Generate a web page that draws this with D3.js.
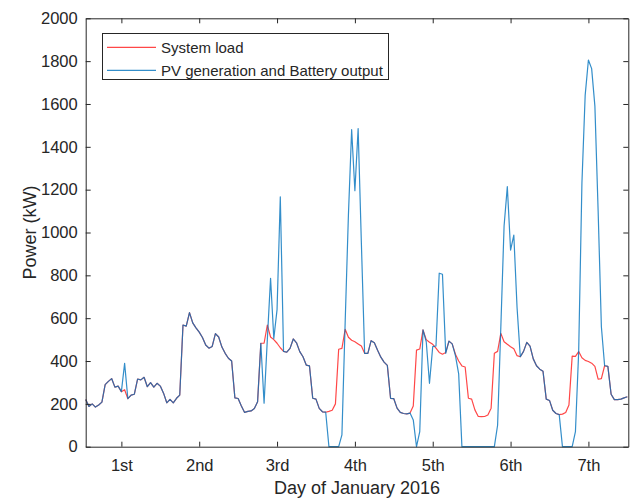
<!DOCTYPE html>
<html>
<head>
<meta charset="utf-8">
<script src="https://cdn.jsdelivr.net/npm/d3@7"></script>
<style>
  html, body { margin: 0; padding: 0; background: #fff; }
  svg { display: block; font-family: "Liberation Sans", Arial, Helvetica, sans-serif; }
</style>
</head>
<body>
<svg id="chart" width="632" height="499"></svg>
<script>
// Hourly system load over the first week of January 2016 (kW)
const systemLoad = [
  220,188,200,185,195,208,290,305,318,278,283,257,266,224,241,245,316,312,324,280,299,278,296,283,
  250,205,221,205,226,241,568,563,626,578,555,535,510,475,460,468,528,512,465,436,413,400,228,225,
  190,160,165,167,178,210,483,483,568,512,500,483,462,445,441,459,503,485,444,420,381,377,226,222,
  179,163,161,165,170,200,455,459,548,511,497,490,480,470,436,436,495,485,450,418,395,380,226,224,
  180,160,155,153,157,190,451,456,545,500,488,478,460,440,432,440,493,480,432,400,377,372,226,222,
  172,142,140,141,148,180,436,445,529,490,478,467,457,425,420,445,487,470,410,378,362,352,222,216,
  170,155,150,152,160,195,423,422,444,415,403,398,390,375,315,318,378,375,245,220,220,222,228,233
];

// Hourly PV generation plus battery output (kW)
const pvBattery = [
  220,188,200,185,195,208,290,305,318,278,283,257,389,224,241,245,316,312,324,280,299,278,296,283,
  250,205,221,205,226,241,568,563,626,578,555,535,510,475,460,468,528,512,465,436,413,400,228,225,
  190,160,165,167,178,210,483,203,500,786,505,640,1167,445,441,459,503,485,444,420,381,377,226,222,
  179,163,161,0,0,0,0,55,580,1080,1480,1195,1485,950,436,436,495,485,450,418,395,380,226,224,
  180,160,155,153,157,125,0,70,545,490,296,467,470,810,805,436,493,480,425,340,0,0,0,0,
  0,0,0,0,0,0,0,100,560,1030,1214,918,988,650,420,445,487,470,410,378,362,352,222,216,
  170,155,150,0,0,0,0,70,444,1230,1640,1805,1765,1590,1100,560,378,375,245,220,220,222,228,233
];

const dayLabels = ["1st", "2nd", "3rd", "4th", "5th", "6th", "7th"];
const dayTickHours = [11, 35, 59, 83, 107, 131, 155];
const powerTicks = [0, 200, 400, 600, 800, 1000, 1200, 1400, 1600, 1800, 2000];

const seriesNames = ["System load", "PV generation and Battery output"];
const seriesColors = ["#ff0000", "#0072bd"];
const seriesOpacity = [0.72, 0.8];

const svg = d3.select("#chart");
const m = { left: 85.7, right: 628.3, top: 18.3, bottom: 446.7 };
const axisColor = "#262626";

const x = d3.scaleLinear().domain([0, 167.3]).range([m.left, m.right]);
const y = d3.scaleLinear().domain([0, 2000]).range([m.bottom, m.top]);

// Lines: load underneath, PV + battery on top (slightly translucent)
const line = d3.line().x((d, i) => x(i)).y(d => y(d));
const plot = svg.append("g");
[systemLoad, pvBattery].forEach((series, k) => {
  plot.append("path").datum(series)
    .attr("d", line).attr("fill", "none")
    .attr("stroke", seriesColors[k]).attr("stroke-width", 1.2)
    .attr("stroke-opacity", seriesOpacity[k]).attr("stroke-linejoin", "round");
});

// Axes (box with inward ticks on all sides)
const tickLen = 5;
const tickFont = 16.5;

const xAxis = d3.axisBottom(x).tickValues(dayTickHours)
  .tickFormat((d, i) => dayLabels[i]).tickSizeInner(-tickLen).tickSizeOuter(0).tickPadding(13);
const yAxis = d3.axisLeft(y).tickValues(powerTicks).tickFormat(d3.format("d"))
  .tickSizeInner(-tickLen).tickSizeOuter(0).tickPadding(8);
const xTop = d3.axisTop(x).tickValues(dayTickHours).tickFormat("").tickSizeInner(-tickLen).tickSizeOuter(0);
const yRight = d3.axisRight(y).tickValues(powerTicks).tickFormat("").tickSizeInner(-tickLen).tickSizeOuter(0);

function styleAxis(g) {
  g.select(".domain").attr("stroke", axisColor);
  g.selectAll(".tick line").attr("stroke", axisColor);
  g.selectAll(".tick text").attr("fill", axisColor)
    .style("font-size", tickFont + "px")
    .style("font-family", "'Liberation Sans', Arial, Helvetica, sans-serif");
}

svg.append("g").attr("transform", `translate(0,${m.bottom})`).call(xAxis).call(styleAxis);
svg.append("g").attr("transform", `translate(${m.left},0)`).call(yAxis).call(styleAxis);
svg.append("g").attr("transform", `translate(0,${m.top})`).call(xTop).call(styleAxis);
svg.append("g").attr("transform", `translate(${m.right},0)`).call(yRight).call(styleAxis);

// Axis titles
svg.append("text")
  .attr("x", (m.left + m.right) / 2).attr("y", 494)
  .attr("text-anchor", "middle").attr("fill", axisColor)
  .style("font-size", "18px")
  .text("Day of January 2016");

svg.append("text")
  .attr("transform", `translate(36,${(m.top + m.bottom) / 2}) rotate(-90)`)
  .attr("text-anchor", "middle").attr("fill", axisColor)
  .style("font-size", "18px")
  .text("Power (kW)");

// Legend
const legend = svg.append("g");
legend.append("rect")
  .attr("x", 102.5).attr("y", 33.5).attr("width", 286).attr("height", 46)
  .attr("fill", "#fff").attr("stroke", axisColor).attr("stroke-width", 1);
seriesNames.forEach((name, i) => {
  const ly = 47.3 + i * 23;
  legend.append("line")
    .attr("x1", 107).attr("x2", 156).attr("y1", ly).attr("y2", ly)
    .attr("stroke", seriesColors[i]).attr("stroke-width", 1.2)
    .attr("stroke-opacity", seriesOpacity[i]);
  legend.append("text")
    .attr("x", 161).attr("y", ly + 5.3)
    .attr("fill", axisColor).style("font-size", "15px")
    .text(name);
});
</script>
</body>
</html>
